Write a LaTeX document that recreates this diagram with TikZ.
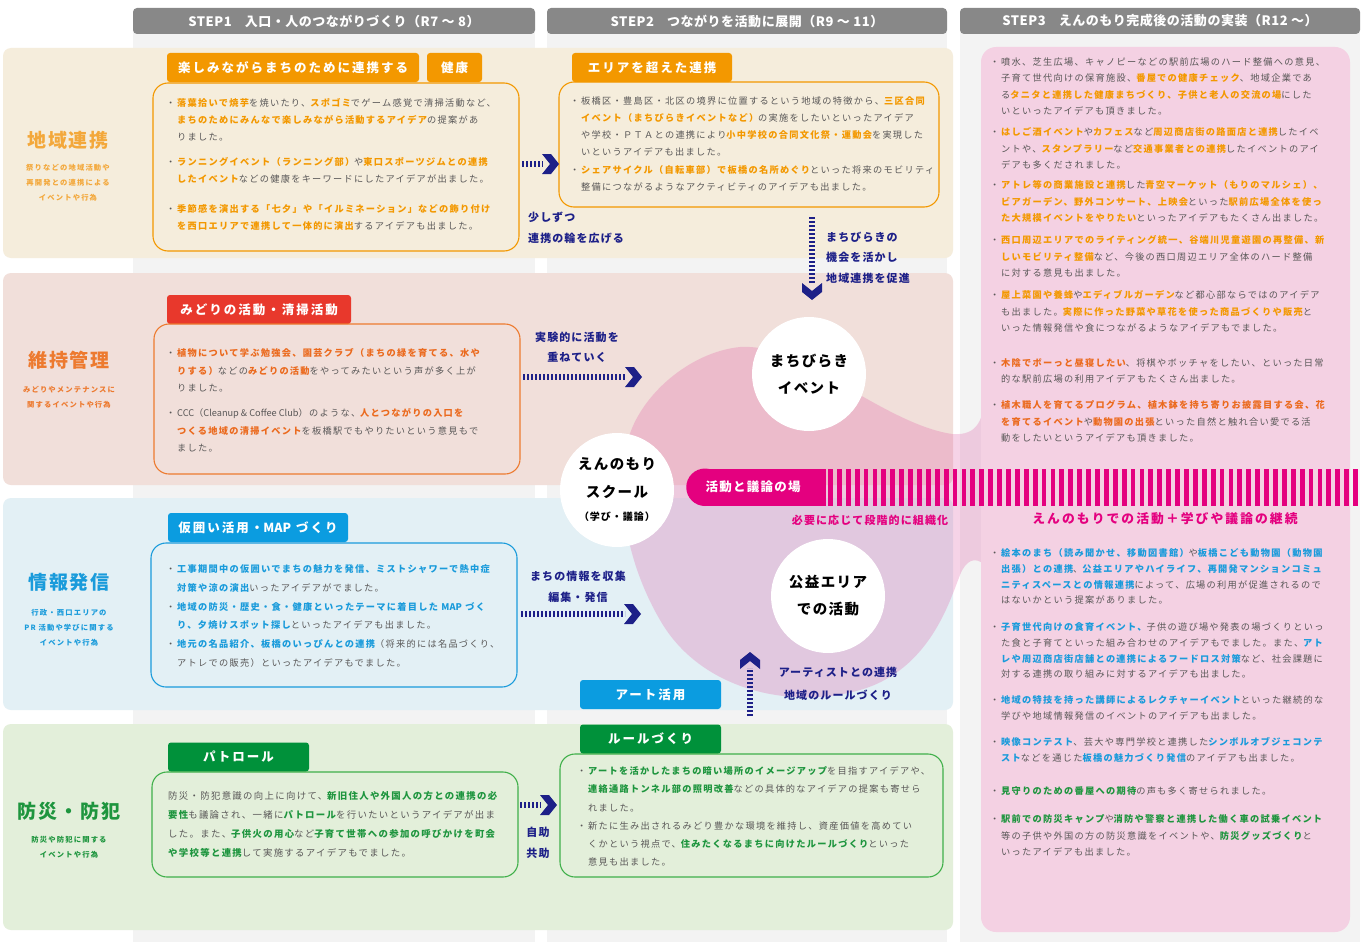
\documentclass[tikz,border=0pt]{standalone}
\usepackage{fontspec}
\setmainfont{Noto Sans CJK JP}
\newfontfamily\jpbody{Noto Sans CJK JP}[LetterSpace=14]
\newfontfamily\jptab{Noto Sans CJK JP}[LetterSpace=16]
\newfontfamily\jplab{Noto Sans CJK JP}[LetterSpace=10]
\newfontfamily\jphdr{Noto Sans CJK JP}[LetterSpace=4]
\newfontfamily\jpsub{Noto Sans CJK JP}[LetterSpace=16]
\newfontfamily\jplat{Noto Sans CJK JP}
\definecolor{gtext}{HTML}{595757}
\definecolor{corange}{HTML}{F39800}
\definecolor{ctitleO}{HTML}{F3A83B}
\definecolor{cred}{HTML}{EB6A1E}
\definecolor{ctitleR}{HTML}{ED7A2F}
\definecolor{ctabR}{HTML}{E8382C}
\definecolor{cblue}{HTML}{1A9BDB}
\definecolor{ctabB}{HTML}{0B9CE0}
\definecolor{cgreen}{HTML}{1E953E}
\definecolor{ctabG}{HTML}{00913A}
\definecolor{cboxG}{HTML}{40B04A}
\definecolor{cnavy}{HTML}{1D2088}
\definecolor{cmag}{HTML}{E4007F}
\definecolor{chdr}{HTML}{888888}
\definecolor{colbg}{HTML}{F3F3F3}
\definecolor{rA}{HTML}{F5EDDC}
\definecolor{rB}{HTML}{F1DFDA}
\definecolor{rC}{HTML}{E3F0F5}
\definecolor{rD}{HTML}{E3EFDA}
\definecolor{cpanel}{HTML}{F4D1E3}
\definecolor{cblob}{HTML}{DF53A1}
\newcommand\eO[1]{\textcolor{corange}{\bfseries #1}}
\newcommand\eR[1]{\textcolor{cred}{\bfseries #1}}
\newcommand\eB[1]{\textcolor{cblue}{\bfseries #1}}
\newcommand\eG[1]{\textcolor{cgreen}{\bfseries #1}}
\newcommand\bul{\llap{・\kern2pt}}
\newcommand\lat[1]{{\jplat #1}}
\begin{document}
\begin{tikzpicture}[x=1pt,y=-1pt,
  hdr/.style={fill=chdr, rounded corners=4pt, text=white, inner sep=0pt,
    font=\jphdr\bfseries\fontsize{13}{15}\selectfont},
  tabbox/.style={rounded corners=3pt, text=white, inner sep=0pt,
    font=\jptab\bfseries\fontsize{12.5}{14}\selectfont},
  cbox/.style={rounded corners=15pt, line width=1.1pt, inner sep=0pt},
  body/.style={anchor=north west, inner sep=0pt, align=left, text=gtext,
    font=\jpbody\fontsize{9.2}{17}\selectfont},
  rbody/.style={body, font=\jpbody\fontsize{9.2}{16.4}\selectfont},
  rtitle/.style={font=\jplab\bfseries\fontsize{19}{22}\selectfont, inner sep=0pt},
  rsub/.style={font=\jpsub\bfseries\fontsize{7.3}{15}\selectfont, inner sep=0pt, align=center},
  nlab/.style={text=cnavy, inner sep=0pt, font=\jplab\bfseries\fontsize{11}{13}\selectfont},
  dotln/.style={draw=cnavy, line width=6.5pt, dash pattern=on 2pt off 2pt},
  circ/.style={circle, fill=white, minimum size=114pt, inner sep=0pt, align=center,
    font=\jplab\bfseries\fontsize{14.5}{27}\selectfont},
  chev/.pic={\fill[cnavy] (-17,-10) -- (-8,-10) -- (0,0) -- (-8,10) -- (-17,10) -- (-9,0) -- cycle;}
]
\useasboundingbox (0,0) rectangle (1362,942);
\fill[white] (0,0) rectangle (1362,942);
% columns
\fill[colbg] (133,20) rectangle (535,942);
\fill[colbg] (547,20) rectangle (947,942);
\fill[colbg] (960,20) rectangle (1360,942);
% headers
\node[hdr, minimum width=402pt, minimum height=26pt] (h1) at (334,21) {STEP1\quad 入口・人のつながりづくり（R7 ～ 8）};
\node[hdr, minimum width=400pt, minimum height=26pt] (h2) at (747,21) {STEP2\quad つながりを活動に展開（R9 ～ 11）};
\node[hdr, minimum width=400pt, minimum height=26pt] (h3) at (1160,21) {STEP3\quad えんのもり完成後の活動の実装（R12 ～）};
% row bands
\fill[rA, rounded corners=8pt] (3,48) rectangle (953,258);
\fill[rB, rounded corners=8pt] (3,273) rectangle (953,485);
\fill[rC, rounded corners=8pt] (3,498) rectangle (953,710);
\fill[rD, rounded corners=8pt] (3,724) rectangle (953,930);
% blob
\fill[cblob, opacity=0.25] (985,385)
  .. controls (985,420) and (978,436) .. (952,434)
  .. controls (925,430) and (895,415) .. (860,395)
  .. controls (815,365) and (775,345) .. (740,347)
  .. controls (690,352) and (640,395) .. (628,440)
  .. controls (615,490) and (625,560) .. (660,620)
  .. controls (700,690) and (790,710) .. (860,690)
  .. controls (930,670) and (950,600) .. (960,575)
  .. controls (966,560) and (975,556) .. (985,565) -- cycle;
% right panel
\fill[cpanel, rounded corners=15pt] (981,47) rectangle (1350,932);
% row labels
\node[rtitle, text=ctitleO] (l1) at (68,140) {地域連携};
\node[rsub, text=ctitleO] (l1s) at (68,183) {祭りなどの地域活動や\\再開発との連携による\\イベントや行為};
\node[rtitle, text=ctitleR] (l2) at (69,360) {維持管理};
\node[rsub, text=ctitleR] (l2s) at (69,397) {みどりやメンテナンスに\\関するイベントや行為};
\node[rtitle, text=cblue] (l3) at (69,582) {情報発信};
\node[rsub, text=cblue] (l3s) at (69,628) {行政・西口エリアの\\PR 活動や学びに関する\\イベントや行為};
\node[rtitle, text=cgreen] (l4) at (69,811) {防災・防犯};
\node[rsub, text=cgreen] (l4s) at (69,847) {防災や防犯に関する\\イベントや行為};
% tabs
\node[tabbox, fill=corange, minimum width=252pt, minimum height=29pt] (t1) at (293,67.5) {楽しみながらまちのために連携する};
\node[tabbox, fill=corange, minimum width=55pt, minimum height=29pt] (t2) at (454.5,67.5) {健康};
\node[tabbox, fill=corange, minimum width=160pt, minimum height=29pt] (t3) at (652,67.5) {エリアを超えた連携};
\node[tabbox, fill=ctabR, minimum width=184pt, minimum height=29pt] (t4) at (259,309.5) {みどりの活動・清掃活動};
\node[tabbox, fill=ctabB, minimum width=180pt, minimum height=29pt] (t5) at (258,527.5) {仮囲い活用・\lat{MAP} づくり};
\node[tabbox, fill=ctabG, minimum width=141pt, minimum height=29pt] (t6) at (238.5,757) {パトロール};
\node[tabbox, fill=ctabB, minimum width=141pt, minimum height=29pt] (t7) at (650.5,694.5) {アート活用};
\node[tabbox, fill=ctabG, minimum width=141pt, minimum height=29pt] (t8) at (650.5,739) {ルールづくり};
% content boxes
\node[cbox, draw=corange, minimum width=366pt, minimum height=168pt] (b1) at (336,167) {};
\node[cbox, draw=corange, minimum width=380pt, minimum height=125pt] (b2) at (749,144.5) {};
\node[cbox, draw=ctitleR, minimum width=366pt, minimum height=150pt] (b3) at (337,399) {};
\node[cbox, draw=cblue, minimum width=366pt, minimum height=144pt] (b4) at (334,615) {};
\node[cbox, draw=cboxG, minimum width=366pt, minimum height=105pt] (b5) at (335,824.5) {};
\node[cbox, draw=cboxG, minimum width=383pt, minimum height=123pt] (b6) at (751.5,815.5) {};
% box texts row 1
\node[body] (p11) at (177,98.5) {\bul\eO{落葉拾いで焼芋}を焼いたり、\eO{スポゴミ}でゲーム感覚で清掃活動など、\\ \eO{まちのためにみんなで楽しみながら活動するアイデア}の提案があ\\りました。};
\node[body] (p12) at (177,157.5) {\bul\eO{ランニングイベント（ランニング部）}や\eO{東口スポーツジムとの連携}\\ \eO{したイベント}などの健康をキーワードにしたアイデアが出ました。};
\node[body] (p13) at (177,204.5) {\bul\eO{季節感を演出する「七夕」や「イルミネーション」などの飾り付け}\\ \eO{を西口エリアで連携して一体的に演出}するアイデアも出ました。};
\node[body] (p21) at (581,96.5) {\bul 板橋区・豊島区・北区の境界に位置するという地域の特徴から、\eO{三区合同}\\ \eO{イベント（まちびらきイベントなど）}の実施をしたいといったアイデア\\や学校・ＰＴＡとの連携により\eO{小中学校の合同文化祭・運動会}を実現した\\いというアイデアも出ました。};
\node[body] (p22) at (581,165.5) {\bul\eO{シェアサイクル（自転車部）で板橋の名所めぐり}といった将来のモビリティ\\整備につながるようなアクティビティのアイデアも出ました。};
% row 2
\node[body, font=\jpbody\fontsize{9.2}{17.5}\selectfont] (p31) at (177,348.5) {\bul\eR{植物について学ぶ勉強会、園芸クラブ（まちの緑を育てる、水や}\\ \eR{りする）}などの\eR{みどりの活動}をやってみたいという声が多く上が\\りました。};
\node[body, font=\jpbody\fontsize{9.2}{17.5}\selectfont] (p32) at (177,408.5) {\bul\lat{CCC}（\lat{Cleanup \& Coffee Club}）のような、\eR{人とつながりの入口を}\\ \eR{つくる地域の清掃イベント}を板橋駅でもやりたいという意見もで\\ました。};
% row 3
\node[body, font=\jpbody\fontsize{9.2}{18.7}\selectfont] (p41) at (177,564.5) {\bul\eB{工事期間中の仮囲いでまちの魅力を発信、ミストシャワーで熱中症}\\ \eB{対策や涼の演出}いったアイデアがでました。};
\node[body, font=\jpbody\fontsize{9.2}{18.7}\selectfont] (p42) at (177,602) {\bul\eB{地域の防災・歴史・食・健康といったテーマに着目した \lat{MAP} づく}\\ \eB{り、夕焼けスポット探し}といったアイデアも出ました。};
\node[body, font=\jpbody\fontsize{9.2}{18.7}\selectfont] (p43) at (177,639.5) {\bul\eB{地元の名品紹介、板橋のいっぴんとの連携}（将来的には名品づくり、\\アトレでの販売）といったアイデアもでました。};
% row 4
\node[body, font=\jpbody\fontsize{9.4}{18.9}\selectfont] (p51) at (168,791.5) {防災・防犯意識の向上に向けて、\eG{新旧住人や外国人の方との連携の必}\\ \eG{要性}も議論され、一緒に\eG{パトロール}を行いたいというアイデアが出ま\\した。また、\eG{子供火の用心}など\eG{子育て世帯への参加の呼びかけを町会}\\ \eG{や学校等と連携}して実施するアイデアもでました。};
\node[body, font=\jpbody\fontsize{9.2}{18.3}\selectfont] (p61) at (588,766.5) {\bul\eG{アートを活かしたまちの暗い場所のイメージアップ}を目指すアイデアや、\\ \eG{連絡通路トンネル部の照明改善}などの具体的なアイデアの提案も寄せら\\れました。};
\node[body, font=\jpbody\fontsize{9.2}{18}\selectfont] (p62) at (588,821.5) {\bul 新たに生み出されるみどり豊かな環境を維持し、資産価値を高めてい\\くかという視点で、\eG{住みたくなるまちに向けたルールづくり}といった\\意見も出ました。};
% right panel texts
\node[rbody] (q1) at (1001,57.5) {\bul 噴水、芝生広場、キャノピーなどの駅前広場のハード整備への意見、\\子育て世代向けの保育施設、\eO{番屋での健康チェック}、地域企業であ\\る\eO{タニタと連携した健康まちづくり、子供と老人の交流の場}にした\\いといったアイデアも頂きました。};
\node[rbody] (q2) at (1001,127.5) {\bul\eO{はしご酒イベント}や\eO{カフェス}など\eO{周辺商店街の路面店と連携}したイベ\\ントや、\eO{スタンプラリー}など\eO{交通事業者との連携}したイベントのアイ\\デアも多くだされました。};
\node[rbody] (q3) at (1001,180.5) {\bul\eO{アトレ等の商業施設と連携}した\eO{青空マーケット（もりのマルシェ）、}\\ \eO{ビアガーデン、野外コンサート、上映会}といった\eO{駅前広場全体を使っ}\\ \eO{た大規模イベントをやりたい}といったアイデアもたくさん出ました。};
\node[rbody] (q4) at (1001,235.5) {\bul\eO{西口周辺エリアでのライティング統一、谷端川児童遊園の再整備、新}\\ \eO{しいモビリティ整備}など、今後の西口周辺エリア全体のハード整備\\に対する意見も出ました。};
\node[rbody] (q5) at (1001,290.5) {\bul\eO{屋上菜園や養蜂}や\eO{エディブルガーデン}など都心部ならではのアイデア\\も出ました。\eO{実際に作った野菜や草花を使った商品づくりや販売}と\\いった情報発信や食につながるようなアイデアもでました。};
\node[rbody] (q6) at (1001,358.5) {\bul\eR{木陰でボーっと昼寝したい}、将棋やボッチャをしたい、といった日常\\的な駅前広場の利用アイデアもたくさん出ました。};
\node[rbody] (q7) at (1001,400.5) {\bul\eR{植木職人を育てるプログラム、植木鉢を持ち寄りお披露目する会、花}\\ \eR{を育てるイベント}や\eR{動物園の出張}といった自然と触れ合い愛でる活\\動をしたいというアイデアも頂きました。};
\node[rbody, font=\jpbody\fontsize{9.2}{15.7}\selectfont] (q8) at (1001,548.5) {\bul\eB{絵本のまち（読み聞かせ、移動図書館）}や\eB{板橋こども動物園（動物園}\\ \eB{出張）との連携}、\eB{公益エリアやハイライフ、再開発マンションコミュ}\\ \eB{ニティスペースとの情報連携}によって、広場の利用が促進されるので\\はないかという提案がありました。};
\node[rbody, font=\jpbody\fontsize{9.2}{15.7}\selectfont] (q9) at (1001,622.5) {\bul\eB{子育世代向けの食育イベント、}子供の遊び場や発表の場づくりといっ\\た食と子育てといった組み合わせのアイデアもでました。また、\eB{アト}\\ \eB{レや周辺商店街店舗との連携によるフードロス対策}など、社会課題に\\対する連携の取り組みに対するアイデアも出ました。};
\node[rbody, font=\jpbody\fontsize{9.2}{16}\selectfont] (q10) at (1001,695.5) {\bul\eB{地域の特技を持った講師によるレクチャーイベント}といった継続的な\\学びや地域情報発信のイベントのアイデアも出ました。};
\node[rbody, font=\jpbody\fontsize{9.2}{16}\selectfont] (q11) at (1001,737.5) {\bul\eB{映像コンテスト}、芸大や専門学校と連携した\eB{シンボルオブジェコンテ}\\ \eB{スト}などを通じた\eB{板橋の魅力づくり発信}のアイデアも出ました。};
\node[rbody] (q12) at (1001,786.5) {\bul\eG{見守りのための番屋への期待}の声も多く寄せられました。};
\node[rbody] (q13) at (1001,814.5) {\bul\eG{駅前での防災キャンプ}や\eG{消防や警察と連携した働く車の試乗イベント}\\等の子供や外国の方の防災意識をイベントや、\eG{防災グッズづくり}と\\いったアイデアも出ました。};
% magenta bar
\fill[cmag] (705,468.5) rectangle (826,506);
\fill[cmag] (705,487.25) circle (18.75);
\foreach \i in {0,...,59} \fill[cmag] (828+\i*8.9,468.5) rectangle ++(4.8,37.5);
\node[text=white, inner sep=0pt, font=\jplab\bfseries\fontsize{12.5}{14}\selectfont] (bar) at (753,487) {活動と議論の場};
\node[text=cmag, inner sep=0pt, font=\jplab\bfseries\fontsize{11}{13}\selectfont] (org) at (870,520) {必要に応じて段階的に組織化};
\node[text=cmag, inner sep=0pt, font=\jptab\bfseries\fontsize{12.8}{14}\selectfont] (cont) at (1165,519) {えんのもりでの活動＋学びや議論の継続};
% circles
\node[circ] (c1) at (809,374) {まちびらき\\イベント};
\node[circ] (c2) at (617,490) {えんのもり\\[1pt]スクール\\[-4pt]{\fontsize{10}{12}\selectfont（学び・議論）}};
\node[circ] (c3) at (828,596) {公益エリア\\での活動};
% arrows
\coordinate (a1s) at (522,164); \coordinate (a1e) at (559,164);
\draw[dotln] (a1s) -- ([xshift=-16pt]a1e); \pic at (a1e) {chev};
\coordinate (a2s) at (523,377); \coordinate (a2e) at (642,377);
\draw[dotln] (a2s) -- ([xshift=-16pt]a2e); \pic at (a2e) {chev};
\coordinate (a3s) at (521,614); \coordinate (a3e) at (641,614);
\draw[dotln] (a3s) -- ([xshift=-16pt]a3e); \pic at (a3e) {chev};
\coordinate (a4s) at (520,805); \coordinate (a4e) at (557,805);
\draw[dotln] (a4s) -- ([xshift=-16pt]a4e); \pic at (a4e) {chev};
\coordinate (a5s) at (812,217); \coordinate (a5e) at (812,300);
\draw[dotln] (a5s) -- ([yshift=16pt]a5e); \pic[rotate=-90] at (a5e) {chev};
\coordinate (a6s) at (750,716); \coordinate (a6e) at (750,652);
\draw[dotln] (a6s) -- ([yshift=-16pt]a6e); \pic[rotate=90] at (a6e) {chev};
% navy labels
\node[nlab, anchor=west] (n1) at (528,217) {少しずつ};
\node[nlab, anchor=west] (n2) at (528,238) {連携の輪を広げる};
\node[nlab, anchor=west] (n3) at (826,237) {まちびらきの};
\node[nlab, anchor=west] (n4) at (826,257) {機会を活かし};
\node[nlab, anchor=west] (n5) at (826,278) {地域連携を促進};
\node[nlab] (n6) at (577,337) {実験的に活動を};
\node[nlab] (n7) at (577,357) {重ねていく};
\node[nlab] (n8) at (578,576) {まちの情報を収集};
\node[nlab] (n9) at (578,597) {編集・発信};
\node[nlab] (n10) at (538,832) {自助};
\node[nlab] (n11) at (538,853) {共助};
\node[nlab] (n12) at (838,672) {アーティストとの連携};
\node[nlab] (n13) at (838,695) {地域のルールづくり};
\end{tikzpicture}
\end{document}
